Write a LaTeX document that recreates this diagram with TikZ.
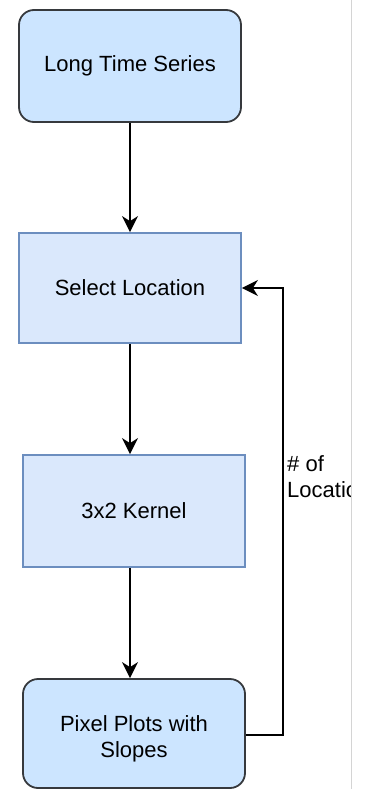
\documentclass[tikz,border=0pt]{standalone}
\usepackage{fontspec}
\setmainfont{Liberation Sans}
\usetikzlibrary{arrows.meta}
\definecolor{termfill}{HTML}{CCE5FF}
\definecolor{termdraw}{HTML}{36393D}
\definecolor{procfill}{HTML}{DAE8FC}
\definecolor{procdraw}{HTML}{6C8EBF}
\definecolor{sideline}{HTML}{D4D4D4}
\tikzset{
  terminal/.style={draw=termdraw, fill=termfill, line width=1.8pt, rounded corners=15pt,
    minimum width=222pt, align=center, inner sep=0pt},
  process/.style={draw=procdraw, fill=procfill, line width=1.8pt,
    minimum width=222pt, align=center, inner sep=0pt},
  flow/.style={draw=black, line width=1.8pt, -{Stealth[length=16pt,width=16pt,inset=5pt]}},
  txt/.style={font=\fontsize{22}{26}\selectfont}
}
\begin{document}
\begin{tikzpicture}[x=1pt,y=-1pt]
  \useasboundingbox (0,0) rectangle (367,789);
  \fill[white] (0,0) rectangle (367,789);
  \draw[sideline, line width=1pt] (351,0) -- (351,789);

  \node[terminal, minimum height=112pt, txt] (series) at (130,66) {Long Time Series};
  \node[process, minimum height=110pt, txt] (select) at (130,288) {Select Location};
  \node[process, minimum height=112pt, txt] (kernel) at (134,511) {3x2 Kernel};
  \node[terminal, minimum height=109pt] (plots) at (134,733.5) {};
  \node[txt, align=center] (plotstext) at (134,739) {Pixel Plots with\\Slopes};

  \coordinate (bend1) at (283,735);
  \coordinate (bend2) at (283,288);

  \draw[flow] (series.south) -- (select.north);
  \draw[flow] (select.south) -- (select.south |- kernel.north);
  \draw[flow] (kernel.south -| select.south) -- (plots.north -| select.south);
  \draw[flow] (plots.east |- bend1) -- (bend1) -- (bend2) -- (select.east);

  \begin{scope}
    \clip (0,0) rectangle (350.5,789);
    \node[txt, align=left, anchor=north west, inner sep=0pt] (count) at (287,455) {\# of\\Locations};
  \end{scope}
\end{tikzpicture}
\end{document}
